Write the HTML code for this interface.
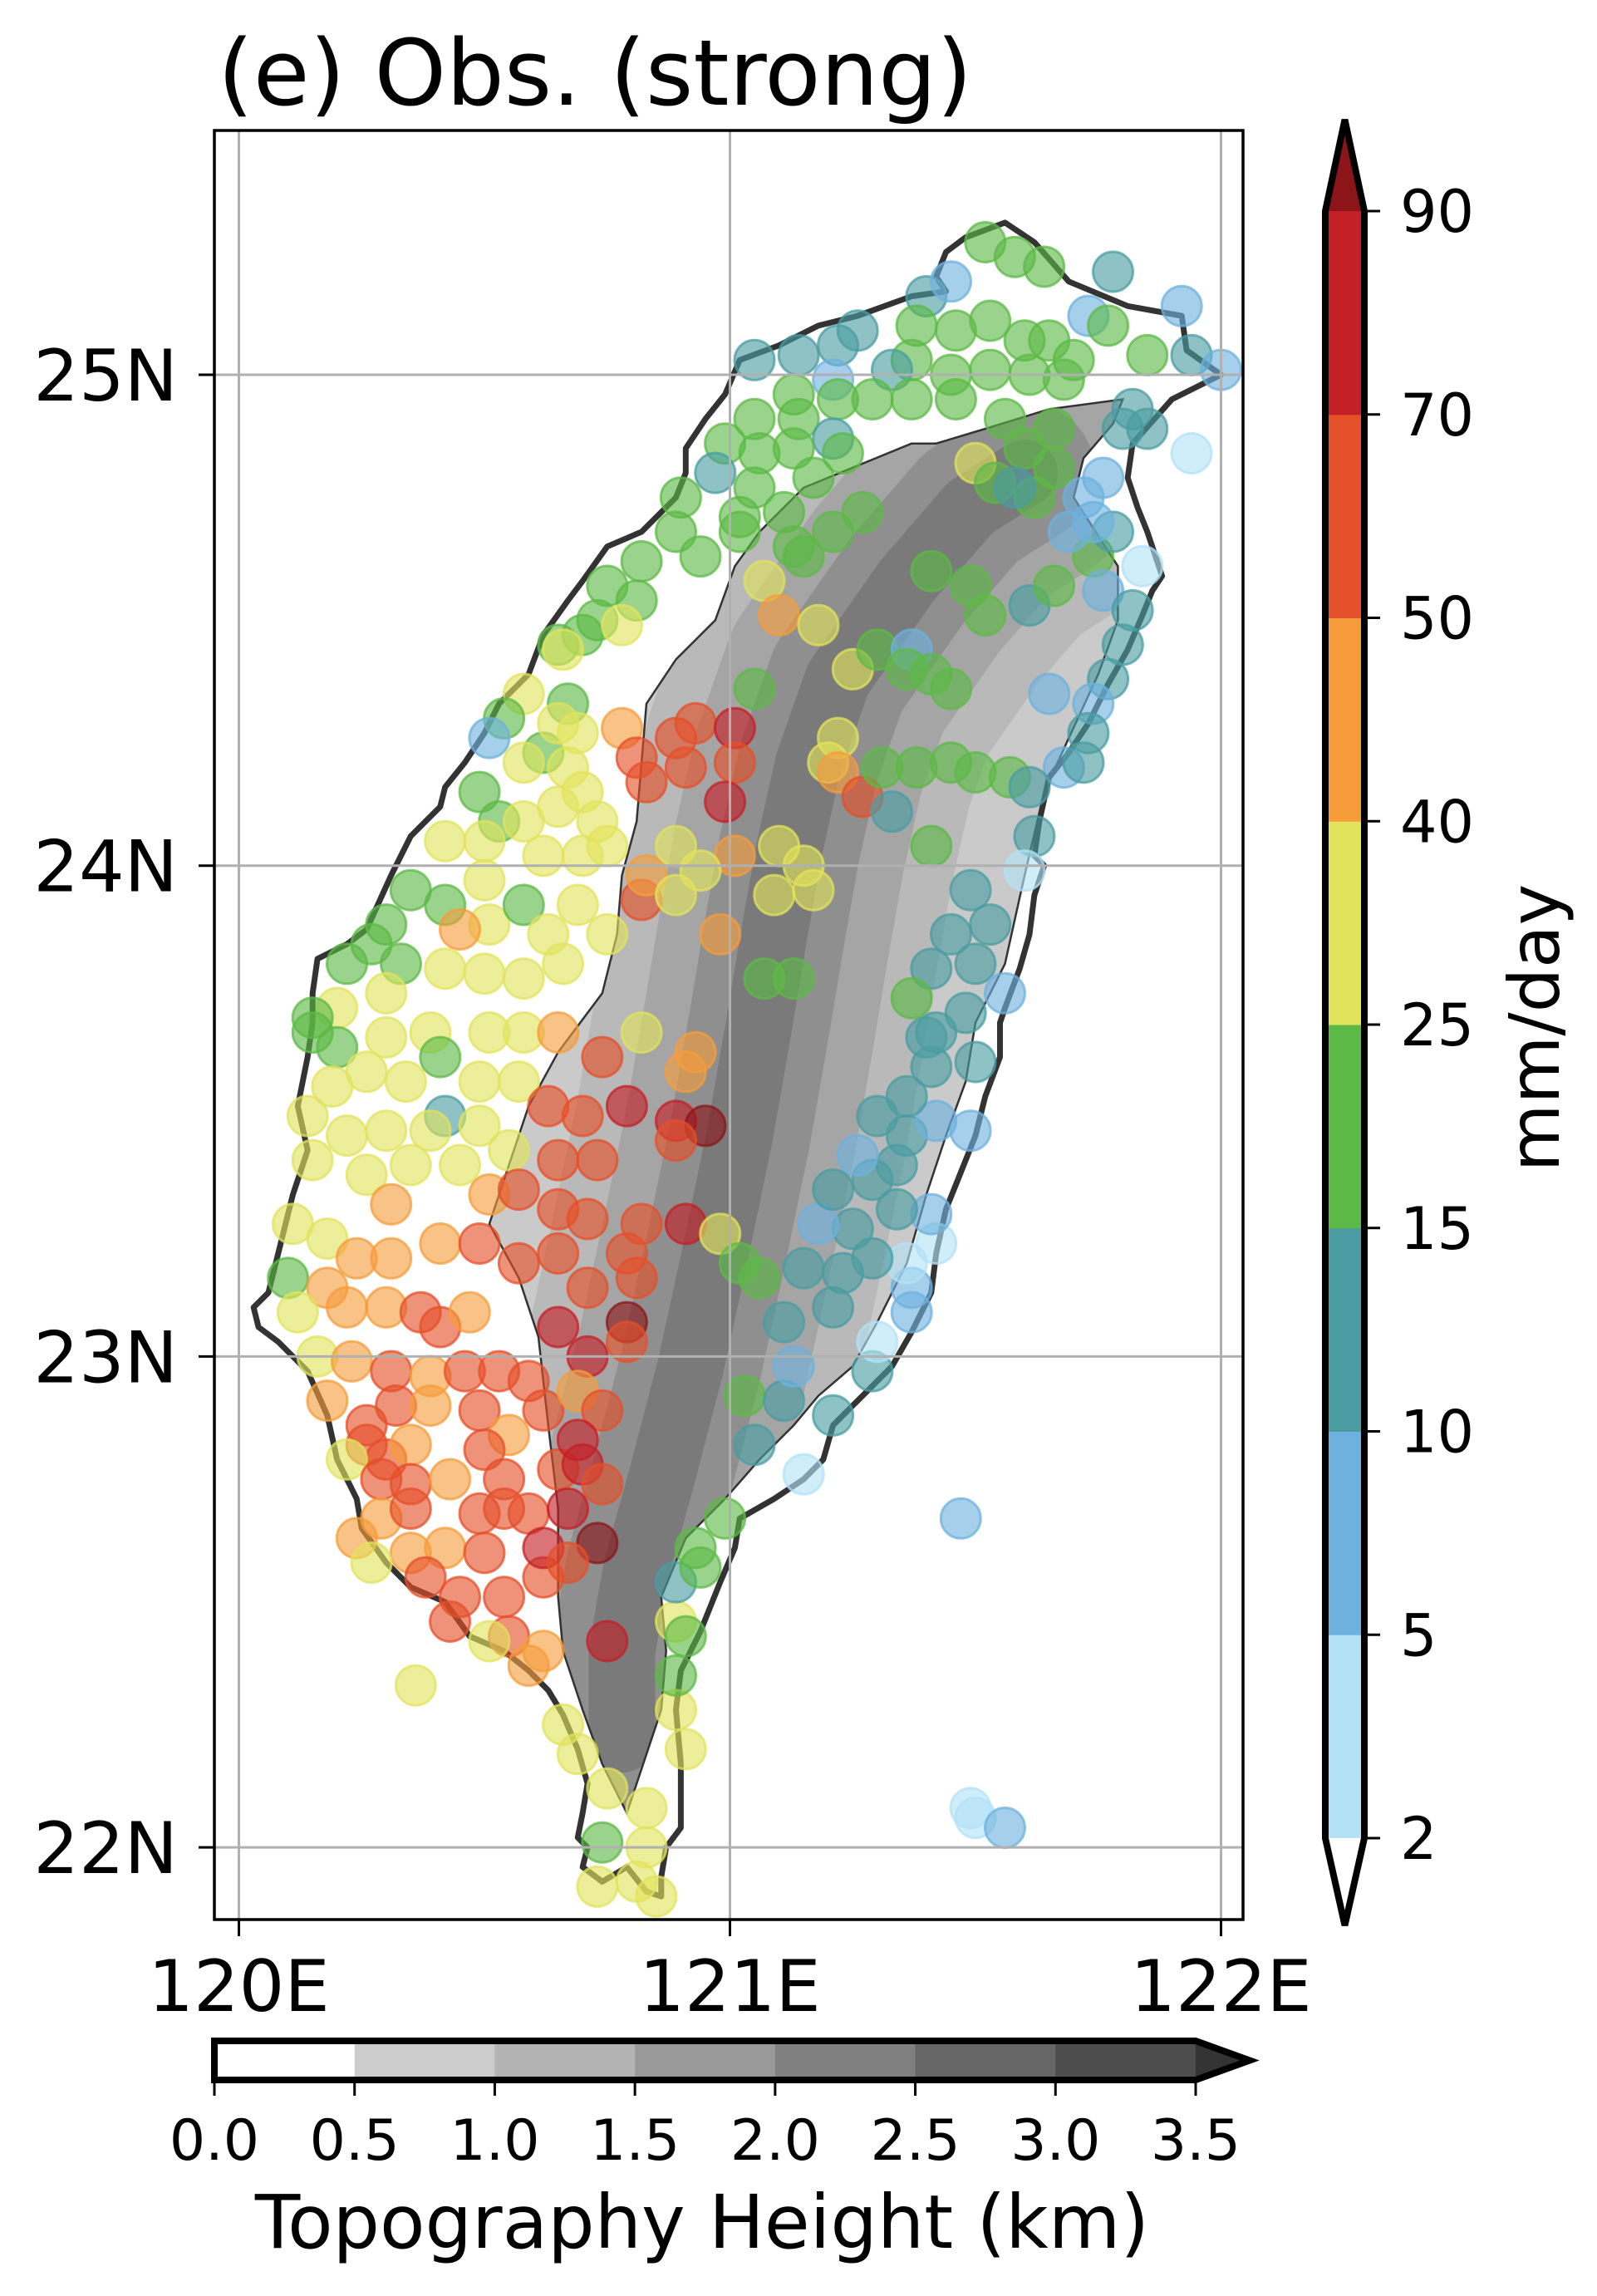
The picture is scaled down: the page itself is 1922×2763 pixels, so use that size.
<!DOCTYPE html>
<html><head><meta charset="utf-8"><title>(e) Obs. (strong)</title>
<style>
html,body{margin:0;padding:0;background:#fff;}
svg{display:block;font-family:"DejaVu Sans","Liberation Sans",sans-serif;}
</style></head>
<body>
<svg id="fig" xmlns="http://www.w3.org/2000/svg" width="1922" height="2763" viewBox="0 0 1922 2763">
<rect x="0" y="0" width="1922" height="2763" fill="#fff"/>
<text x="262" y="126" font-size="110" fill="#000">(e) Obs. (strong)</text>
<defs><clipPath id="axclip"><rect x="258" y="157" width="1238" height="2153"/></clipPath><clipPath id="topoclip"><polygon id="topoclipPoly"/></clipPath></defs>
<g id="mapLayer" clip-path="url(#axclip)"></g>
<g id="axesLayer"></g>
<g id="cbarLayer"></g>
<g id="topoBarLayer"></g>
</svg>
<script>
// ---- data ----
const lonTicks=[120,121,122];
const latTicks=[22,23,24,25];
const rainLevels=[2,5,10,15,25,40,50,70,90];
const rainColors=['#b3e2f7','#6eb1de','#4a9ca1','#5cb946','#e2e35c','#f69c3b','#e54f29','#c41f26'];
const rainOver='#8b1518';
const topoLevels=[0.0,0.5,1.0,1.5,2.0,2.5,3.0,3.5];
const topoColors=['#ffffff','#cccccc','#b3b3b3','#999999','#808080','#666666','#4d4d4d'];
const topoOver='#333333';
const coastLon=[121.56,121.62,121.69,121.81,121.92,121.93,122.00,121.90,121.82,121.81,121.83,121.85,121.88,121.86,121.84,121.81,121.77,121.73,121.69,121.65,121.63,121.62,121.64,121.62,121.61,121.59,121.56,121.55,121.55,121.52,121.50,121.46,121.44,121.42,121.41,121.37,121.33,121.27,121.21,121.19,121.15,121.09,121.02,121.01,120.98,120.94,120.90,120.89,120.90,120.90,120.87,120.86,120.86,120.83,120.79,120.74,120.70,120.71,120.69,120.70,120.71,120.69,120.66,120.63,120.59,120.54,120.47,120.42,120.35,120.30,120.25,120.24,120.20,120.18,120.14,120.08,120.04,120.03,120.06,120.08,120.11,120.14,120.12,120.14,120.15,120.15,120.16,120.22,120.26,120.31,120.35,120.41,120.42,120.46,120.50,120.53,120.59,120.62,120.67,120.70,120.75,120.82,120.89,120.91,120.91,120.95,120.99,121.02,121.10,121.18,121.26,121.37,121.44,121.42,121.44,121.48];
const coastLat=[25.31,25.27,25.19,25.14,25.12,25.05,25.00,24.95,24.86,24.79,24.73,24.68,24.59,24.56,24.51,24.44,24.37,24.29,24.23,24.18,24.09,24.02,24.00,23.94,23.86,23.79,23.71,23.68,23.61,23.53,23.45,23.35,23.30,23.21,23.13,23.05,22.98,22.92,22.86,22.79,22.75,22.71,22.67,22.61,22.54,22.44,22.36,22.28,22.17,22.04,22.00,21.94,21.90,21.91,21.96,21.93,21.96,22.00,22.02,22.07,22.13,22.20,22.27,22.32,22.36,22.40,22.43,22.50,22.53,22.58,22.65,22.71,22.79,22.88,22.97,23.03,23.06,23.10,23.13,23.21,23.33,23.42,23.51,23.61,23.68,23.74,23.81,23.84,23.87,23.98,24.06,24.12,24.16,24.21,24.27,24.33,24.39,24.47,24.54,24.58,24.65,24.68,24.75,24.80,24.85,24.91,24.96,25.03,25.06,25.10,25.12,25.16,25.17,25.20,25.25,25.28];
const topoLon=[121.37,121.15,121.06,121.01,120.97,120.89,120.83,120.82,120.81,120.78,120.77,120.74,120.65,120.59,120.55,120.51,120.57,120.61,120.63,120.65,120.65,120.66,120.70,120.74,120.79,120.86,120.87,120.86,120.91,120.99,121.06,121.13,121.18,121.25,121.30,121.36,121.40,121.44,121.48,121.50,121.56,121.60,121.64,121.69,121.75,121.79,121.79,121.70,121.72,121.78,121.80,121.65,121.52,121.42];
const topoLat=[24.86,24.77,24.68,24.61,24.50,24.42,24.33,24.21,24.09,23.98,23.86,23.74,23.62,23.51,23.39,23.27,23.16,23.04,22.86,22.69,22.51,22.40,22.28,22.17,22.07,22.28,22.40,22.51,22.63,22.71,22.79,22.86,22.92,22.98,23.07,23.19,23.33,23.45,23.56,23.68,23.80,23.98,24.15,24.26,24.39,24.50,24.61,24.75,24.83,24.90,24.95,24.93,24.89,24.86];
const ridgeLon=[121.60,121.49,121.36,121.22,121.16,121.12,121.09,121.06,121.02,120.97,120.92,120.86,120.81,120.78,120.78];
const ridgeLat=[24.80,24.73,24.58,24.38,24.21,24.03,23.86,23.68,23.45,23.21,22.98,22.75,22.57,22.40,22.22];
const stLon=[121.52,121.58,121.64,121.40,121.45,121.38,121.46,121.53,121.60,121.65,121.37,121.45,121.53,121.61,121.68,121.78,121.92,121.73,121.85,121.94,122.00,121.94,121.77,121.70,
121.05,121.14,121.22,121.26,121.33,121.21,121.13,121.22,121.29,121.37,121.46,121.05,121.14,121.21,121.23,121.13,121.06,120.99,120.97,121.05,121.17,121.11,121.02,120.90,120.89,120.94,121.02,120.82,120.75,120.81,120.73,120.65,120.70,120.66,120.78,120.67,120.58,120.54,120.51,120.62,120.69,120.65,120.58,120.67,120.49,120.53,120.58,120.65,120.70,120.73,120.78,120.81,120.83,120.89,120.93,120.91,121.01,121.01,120.99,120.42,120.50,120.62,120.70,120.75,120.35,120.42,120.50,120.51,120.45,120.58,120.69,120.63,120.30,120.22,120.27,120.33,120.20,120.15,120.30,120.42,120.50,120.58,120.66,120.75,120.82,120.83,120.89,120.98,121.01,120.94,120.89,
121.07,121.13,121.27,121.21,121.15,121.10,121.18,121.25,121.30,121.37,121.36,121.41,121.45,121.05,121.22,121.20,121.22,121.27,121.31,121.38,121.45,121.50,121.57,121.33,121.10,121.15,121.09,121.17,121.07,121.13,121.41,121.50,121.54,121.60,121.66,121.62,121.58,121.72,121.41,121.49,121.52,121.61,121.66,121.74,121.78,121.74,121.69,121.76,121.80,121.85,121.82,121.66,121.56,121.76,121.84,121.82,121.80,121.77,121.65,121.74,121.73,121.68,121.61,121.62,121.60,121.49,121.53,121.45,121.41,121.50,121.56,121.48,121.37,121.72,
120.15,120.20,120.30,120.39,120.51,120.58,120.65,120.74,120.82,120.93,120.91,120.19,120.26,120.34,120.41,120.42,120.49,120.57,120.63,120.70,120.79,120.89,120.95,120.14,120.22,120.30,120.39,120.49,120.55,120.65,120.73,120.89,120.15,120.26,120.35,120.45,120.31,120.51,120.57,120.65,120.71,120.82,120.91,120.98,121.02,121.06,120.11,120.18,120.24,120.31,120.41,120.49,120.57,120.65,120.71,120.81,120.79,120.10,120.18,120.12,120.22,120.30,120.37,120.41,120.47,120.65,120.71,120.79,120.79,120.16,120.23,120.31,120.39,120.46,120.53,120.59,120.18,120.26,120.32,120.39,120.49,120.55,120.62,120.69,120.74,120.26,120.30,120.35,120.22,120.29,120.35,120.43,120.50,120.54,120.65,120.69,120.70,120.74,120.24,120.29,120.35,120.35,120.42,120.49,120.54,120.59,120.67,120.73,120.27,120.38,120.45,120.50,120.54,120.62,120.62,120.67,120.43,120.55,120.51,120.59,120.62,120.75,120.36,120.66,120.69,120.75,120.83,120.74,120.83,120.73,120.81,120.85,120.89,120.91,120.89,120.89,120.91,120.89,120.94,120.93,120.99,121.03,121.05,121.11,121.13,121.15,121.21,121.29,121.30,121.37,121.37,121.36,121.42,121.21,121.11,121.15,121.23,121.29,121.25,121.18,121.21,121.29,121.34,121.26,121.36,121.42,121.30,121.36,121.49,121.50,121.41,121.40,121.42,121.41,121.34,121.47,121.49,121.50,121.56];
const stLat=[25.27,25.24,25.22,25.16,25.19,25.10,25.09,25.11,25.07,25.07,25.03,25.00,25.01,25.00,24.99,25.21,25.14,25.12,25.04,25.04,25.01,24.84,25.10,25.03,
25.03,25.04,25.06,25.09,25.01,24.99,24.96,24.95,24.95,24.95,24.95,24.91,24.91,24.87,24.84,24.85,24.84,24.86,24.80,24.77,24.79,24.72,24.71,24.75,24.68,24.63,24.68,24.62,24.57,24.54,24.50,24.45,24.47,24.44,24.49,24.33,24.35,24.30,24.26,24.23,24.27,24.29,24.21,24.20,24.15,24.09,24.09,24.12,24.15,24.09,24.28,24.22,24.17,24.26,24.29,24.20,24.28,24.21,24.13,24.05,24.05,24.02,24.02,24.04,23.95,23.92,23.97,23.88,23.87,23.92,23.92,23.86,23.88,23.80,23.84,23.80,23.71,23.69,23.74,23.79,23.78,23.77,23.80,23.86,23.93,23.98,23.94,23.86,24.02,23.99,24.04,
24.58,24.65,24.72,24.68,24.63,24.51,24.49,24.40,24.44,24.44,24.40,24.39,24.36,24.36,24.26,24.21,24.19,24.14,24.20,24.20,24.21,24.19,24.18,24.11,24.04,24.00,23.94,23.95,23.77,23.77,24.04,24.82,24.78,24.85,24.81,24.75,24.77,24.75,24.60,24.57,24.51,24.53,24.57,24.63,24.68,24.70,24.68,24.79,24.89,24.89,24.93,24.89,24.91,24.56,24.61,24.52,24.45,24.38,24.35,24.33,24.27,24.20,24.16,24.06,23.99,23.95,23.88,23.86,23.79,23.80,23.74,23.70,23.73,24.21,
23.66,23.63,23.65,23.66,23.66,23.66,23.66,23.61,23.66,23.62,23.58,23.55,23.58,23.56,23.61,23.49,23.56,23.56,23.51,23.49,23.51,23.48,23.47,23.49,23.45,23.46,23.46,23.47,23.42,23.40,23.40,23.44,23.40,23.37,23.39,23.39,23.31,23.33,23.34,23.30,23.28,23.27,23.27,23.25,23.19,23.16,23.27,23.24,23.20,23.20,23.23,23.23,23.19,23.21,23.14,23.16,23.21,23.16,23.14,23.09,23.10,23.10,23.09,23.06,23.09,23.06,23.00,23.07,23.03,23.00,22.99,22.97,22.96,22.97,22.97,22.95,22.91,22.86,22.90,22.90,22.89,22.84,22.89,22.93,22.89,22.82,22.79,22.82,22.79,22.75,22.74,22.75,22.81,22.75,22.77,22.83,22.78,22.74,22.63,22.67,22.69,22.60,22.61,22.68,22.69,22.68,22.69,22.62,22.58,22.55,22.51,22.60,22.51,22.55,22.61,22.58,22.46,22.43,22.42,22.37,22.40,22.42,22.33,22.25,22.19,22.12,22.08,22.01,22.00,21.92,21.93,21.90,22.28,22.20,22.46,22.35,22.43,22.54,22.57,22.61,22.67,22.92,22.82,22.91,22.98,22.76,22.88,22.97,23.03,23.09,23.14,23.19,23.23,23.10,23.07,23.18,23.17,23.20,23.26,23.27,23.34,23.36,23.39,23.41,23.45,23.48,23.49,23.53,23.46,23.60,23.59,23.65,23.66,23.29,23.30,22.67,22.08,22.06,22.04];
const stVal=[20,20,20,12,8,20,20,20,20,20,20,20,20,20,20,12,8,8,20,12,8,3,20,20,
12,12,12,12,12,8,20,20,20,20,20,20,20,12,20,20,20,20,12,20,20,20,20,20,20,20,20,20,20,20,20,20,20,30,30,20,30,20,8,20,30,30,30,30,20,20,30,30,30,30,45,55,55,55,55,55,85,55,80,30,30,30,30,30,20,20,30,30,45,20,30,30,20,20,20,20,30,20,30,30,30,30,30,30,55,45,30,45,45,30,30,
30,20,20,20,20,45,30,30,20,8,20,20,20,20,30,30,45,55,20,20,20,20,20,12,30,30,30,30,20,20,20,30,20,20,20,20,12,8,20,20,20,12,20,20,12,8,8,8,12,12,12,20,20,8,3,12,12,12,8,8,12,8,12,12,3,12,12,12,12,12,8,12,20,12,
20,20,30,30,30,30,45,55,30,45,45,30,30,30,20,12,30,30,55,55,70,70,90,30,30,30,30,30,30,55,55,55,30,30,30,30,45,45,55,55,55,55,85,30,20,20,30,30,45,45,45,55,55,55,55,55,55,20,45,30,45,45,55,55,45,85,85,90,55,30,45,55,45,55,55,55,45,55,55,45,55,45,55,45,55,55,55,45,30,55,55,45,55,55,55,85,85,55,45,45,55,45,45,55,55,55,85,90,30,55,55,55,55,55,85,55,55,55,30,45,45,85,30,30,30,30,30,20,30,30,30,30,30,30,30,20,20,12,20,20,20,20,12,12,8,3,12,12,3,8,8,3,3,12,12,12,12,12,12,8,12,12,12,8,12,8,12,12,8,12,12,12,12,8,12,8,3,3,8];

// ---- axis functions ----
const X0=287.5, PX=591, Y0=451, PY=590.7;
function xScale(lon){return X0+(lon-120)*PX;}
function yScale(lat){return Y0+(25-lat)*PY;}
function rainColor(v){
  if(v>=rainLevels[rainLevels.length-1]) return rainOver;
  if(v<rainLevels[0]) return '#ffffff';
  for(let i=0;i<rainLevels.length-1;i++){ if(v>=rainLevels[i]&&v<rainLevels[i+1]) return rainColors[i]; }
  return rainOver;
}
const NS='http://www.w3.org/2000/svg';
function mk(tag,attrs,parent){const e=document.createElementNS(NS,tag);for(const k in attrs)e.setAttribute(k,attrs[k]);parent.appendChild(e);return e;}
function ptsStr(lons,lats){return lons.map((l,i)=>xScale(l).toFixed(1)+','+yScale(lats[i]).toFixed(1)).join(' ');}

const map=document.getElementById('mapLayer');
// topography
document.getElementById('topoclipPoly').setAttribute('points',ptsStr(topoLon,topoLat));
const topoBase=mk('polygon',{points:ptsStr(topoLon,topoLat),fill:'#cacaca',stroke:'none'},map);


const ridgeG=mk('g',{'clip-path':'url(#topoclip)'},map);


const ridgeStyles=[[400,'#b9b9b9'],[280,'#a5a5a5'],[170,'#8f8f8f'],[80,'#7a7a7a']];
ridgeStyles.forEach(s=>{
  const pl=mk('polyline',{points:ptsStr(ridgeLon,ridgeLat),fill:'none',stroke:s[1],'stroke-width':s[0],'stroke-linejoin':'round','stroke-linecap':'round'},ridgeG);
  
  
});
const topoLine=mk('polygon',{points:ptsStr(topoLon,topoLat),fill:'none',stroke:'#333','stroke-width':2.5},map);


// coastline
const coast=mk('polygon',{points:ptsStr(coastLon,coastLat),fill:'none',stroke:'#333','stroke-width':7,'stroke-linejoin':'round'},map);


// stations
const stG=mk('g',{},map);


for(let i=0;i<stVal.length;i++){
  const c=rainColor(stVal[i]);
  const ci=mk('circle',{cx:xScale(stLon[i]).toFixed(1),cy:yScale(stLat[i]).toFixed(1),r:24,fill:c,'fill-opacity':0.62,stroke:c,'stroke-opacity':0.75,'stroke-width':3},stG);
  
  
}
// gridlines
lonTicks.forEach(t=>{const l=mk('line',{x1:xScale(t),x2:xScale(t),y1:157,y2:2310,stroke:'#b0b0b0','stroke-width':3},map);
  
  });
latTicks.forEach(t=>{const l=mk('line',{x1:258,x2:1496,y1:yScale(t),y2:yScale(t),stroke:'#b0b0b0','stroke-width':3},map);
  
  });

// axes
const ax=document.getElementById('axesLayer');
const frame=mk('rect',{x:258,y:157,width:1238,height:2153,fill:'none',stroke:'#000','stroke-width':3.5},ax);


lonTicks.forEach(t=>{
  const x=xScale(t);
  const tk=mk('line',{x1:x,x2:x,y1:2310,y2:2330,stroke:'#000','stroke-width':3},ax);
  
  
  const tx=mk('text',{x:x,y:2420,'font-size':86,'text-anchor':'middle'},ax);
  tx.textContent=t+'E';
  
  
});
latTicks.forEach(t=>{
  const y=yScale(t);
  const tk=mk('line',{x1:239,x2:258,y1:y,y2:y,stroke:'#000','stroke-width':3},ax);
  
  
  const tx=mk('text',{x:214,y:y+31,'font-size':86,'text-anchor':'end'},ax);
  tx.textContent=t+'N';
  
  
});

// rain colorbar
const cb=document.getElementById('cbarLayer');
const CB_L=1595, CB_R=1642, CB_TOP=254, CB_BOT=2212;
const step=(CB_BOT-CB_TOP)/(rainLevels.length-1);
function cbY(i){return CB_BOT-i*step;}
for(let i=0;i<rainColors.length;i++){
  const r=mk('rect',{x:CB_L,y:cbY(i+1),width:CB_R-CB_L,height:step+0.5,fill:rainColors[i]},cb);
  
  
}
const topTri=mk('polygon',{points:`${CB_L},${CB_TOP} ${(CB_L+CB_R)/2},144 ${CB_R},${CB_TOP}`,fill:rainOver},cb);


const botTri=mk('polygon',{points:`${CB_L},${CB_BOT} ${(CB_L+CB_R)/2},2317 ${CB_R},${CB_BOT}`,fill:'#ffffff'},cb);


const cbOut=mk('polygon',{points:`${CB_L},${CB_TOP} ${(CB_L+CB_R)/2},144 ${CB_R},${CB_TOP} ${CB_R},${CB_BOT} ${(CB_L+CB_R)/2},2317 ${CB_L},${CB_BOT}`,fill:'none',stroke:'#000','stroke-width':8,'stroke-linejoin':'miter'},cb);


rainLevels.forEach((v,i)=>{
  const y=cbY(i);
  const tk=mk('line',{x1:1646,x2:1661,y1:y,y2:y,stroke:'#000','stroke-width':3},cb);
  
  
  const tx=mk('text',{x:1685,y:y+25,'font-size':70},cb);
  tx.textContent=v;
  
  
});
const unit=mk('text',{x:0,y:0,'font-size':84,'text-anchor':'middle',transform:'translate(1876,1237) rotate(-90)'},cb);
unit.textContent='mm/day';



// topography colorbar
const tb=document.getElementById('topoBarLayer');
const TB_L=258, TB_R=1439, TB_T=2456, TB_B=2503;
const tstep=(TB_R-TB_L)/(topoLevels.length-1);
function tbX(i){return TB_L+i*tstep;}
for(let i=0;i<topoColors.length;i++){
  const r=mk('rect',{x:tbX(i),y:TB_T,width:tstep+0.5,height:TB_B-TB_T,fill:topoColors[i]},tb);
  
  
}
const tTri=mk('polygon',{points:`${TB_R},${TB_T} 1504,${(TB_T+TB_B)/2} ${TB_R},${TB_B}`,fill:topoOver},tb);


const tOut=mk('polygon',{points:`${TB_L},${TB_T} ${TB_R},${TB_T} 1504,${(TB_T+TB_B)/2} ${TB_R},${TB_B} ${TB_L},${TB_B}`,fill:'none',stroke:'#000','stroke-width':8},tb);


topoLevels.forEach((v,i)=>{
  const x=tbX(i);
  const tk=mk('line',{x1:x,x2:x,y1:2507,y2:2522,stroke:'#000','stroke-width':3},tb);
  
  
  const tx=mk('text',{x:x,y:2599,'font-size':68,'text-anchor':'middle'},tb);
  tx.textContent=v.toFixed(1);
  
  
});
const ttl=mk('text',{x:845,y:2705,'font-size':89,'text-anchor':'middle'},tb);
ttl.textContent='Topography Height (km)';


</script>
</body></html>
